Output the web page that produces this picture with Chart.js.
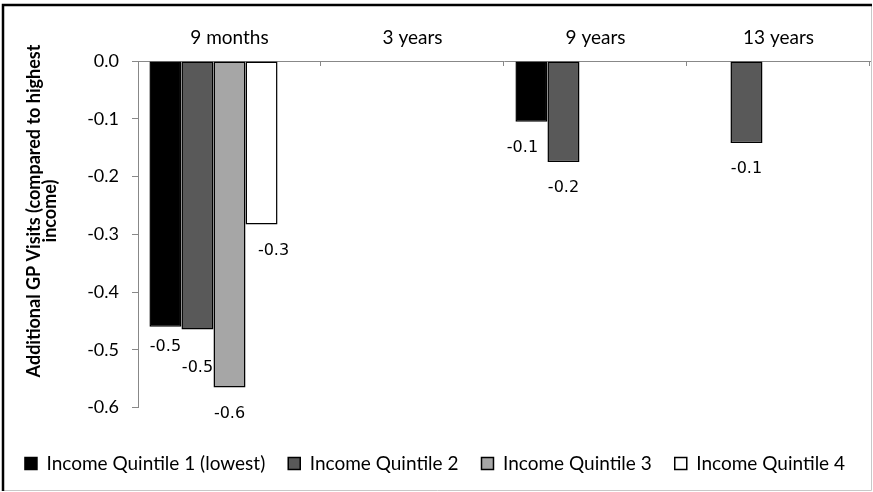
<!DOCTYPE html>
<html>
<head>
<meta charset="utf-8">
<script src="https://cdn.jsdelivr.net/npm/chart.js@4"></script>
<style>
  html, body { margin: 0; padding: 0; background: #fff; }
  #wrap { width: 873px; height: 492px; position: relative; }
</style>
</head>
<body>
<div id="wrap"><canvas id="gpChart"></canvas></div>
<script>
  /* Data */
  var categories = ['9 months', '3 years', '9 years', '13 years'];
  var quintile1 = [-0.46, null, -0.105, null];
  var quintile2 = [-0.465, null, -0.175, -0.142];
  var quintile3 = [-0.565, null, null, null];
  var quintile4 = [-0.283, null, null, null];
  var quintile5 = [null, null, null, null]; // reference group, not shown
  var yTicks = [0, -0.1, -0.2, -0.3, -0.4, -0.5, -0.6];

  var tickFont = 'Lato, "Open Sans", sans-serif';

  /* small nudges for labels that Excel moved apart */
  var labelShift = { '0-0': [0, -6], '1-0': [0, 12], '3-0': [12, 0], '0-2': [-9, 0] };

  function ds(label, data, color) {
    return {
      label: label,
      data: data,
      backgroundColor: color,
      borderColor: '#000',
      borderWidth: 1.5,
      borderSkipped: false,
      categoryPercentage: 0.875,
      barPercentage: 1
    };
  }

  var framePlugin = {
    id: 'frame',
    beforeDraw: function(chart) {
      var ctx = chart.ctx;
      ctx.save();
      ctx.fillStyle = '#fff';
      ctx.fillRect(0, 0, chart.width, chart.height);
      ctx.strokeStyle = '#c8c8c8';
      ctx.lineWidth = 1;
      ctx.beginPath();
      ctx.moveTo(871.5, 5); ctx.lineTo(871.5, 490.5); ctx.lineTo(3, 490.5);
      ctx.stroke();
      ctx.strokeStyle = '#000';
      ctx.lineWidth = 2.5;
      ctx.beginPath();
      ctx.moveTo(3, 491); ctx.lineTo(3, 5); ctx.lineTo(872, 5);
      ctx.stroke();
      ctx.restore();
    }
  };

  var extrasPlugin = {
    id: 'extras',
    afterDatasetsDraw: function(chart) {
      var ctx = chart.ctx;
      ctx.save();
      ctx.fillStyle = '#000';
      ctx.font = '16px "DejaVu Sans", sans-serif';
      ctx.textAlign = 'center';
      ctx.textBaseline = 'middle';
      chart.data.datasets.forEach(function(dataset, i) {
        var meta = chart.getDatasetMeta(i);
        meta.data.forEach(function(bar, j) {
          var v = dataset.data[j];
          if (v === null || v === undefined) return;
          var s = labelShift[i + '-' + j] || [0, 0];
          ctx.fillText(v.toFixed(1), bar.x + s[0], bar.y + 26 + s[1]);
        });
      });
      ctx.restore();
    },
    afterDraw: function(chart) {
      var ctx = chart.ctx;
      var area = chart.chartArea;
      var n = categories.length;
      var w = (area.right - area.left) / n;
      ctx.save();
      ctx.strokeStyle = '#888';
      ctx.lineWidth = 1;
      ctx.beginPath();
      for (var i = 1; i <= n; i++) {
        var x = Math.round(area.left + i * w) - 0.5;
        ctx.moveTo(x, area.top);
        ctx.lineTo(x, area.top + 5);
      }
      ctx.stroke();

      // y axis title
      ctx.fillStyle = '#000';
      ctx.font = 'bold 18px ' + tickFont;
      ctx.textAlign = 'center';
      ctx.textBaseline = 'middle';
      ctx.translate(42, 211);
      ctx.rotate(-Math.PI / 2);
      ctx.fillText('Additional GP Visits (compared to highest', 0, -8);
      ctx.fillText('income)', 0, 8);
      ctx.restore();
    }
  };

  window.addEventListener('DOMContentLoaded', function () {
    var ctx = document.getElementById('gpChart').getContext('2d');
    new Chart(ctx, {
      type: 'bar',
      data: {
        labels: categories,
        datasets: [
          ds('Income Quintile 1 (lowest)', quintile1, '#000000'),
          ds('Income Quintile 2', quintile2, '#595959'),
          ds('Income Quintile 3', quintile3, '#a6a6a6'),
          ds('Income Quintile 4', quintile4, '#ffffff'),
          ds('Income Quintile 5 (highest)', quintile5, '#ffffff')
        ]
      },
      options: {
        responsive: true,
        maintainAspectRatio: false,
        animation: false,
        layout: { padding: { left: 0, right: 3, top: 0, bottom: 9 } },
        scales: {
          x: {
            position: 'top',
            grid: { display: true, drawOnChartArea: false, drawTicks: false },
            border: { display: true, color: '#888', width: 1 },
            ticks: { color: '#000', font: { family: tickFont, size: 19 }, padding: 12 },
            afterFit: function(scale) { scale.height = 61; }
          },
          y: {
            min: -0.6,
            max: 0,
            afterBuildTicks: function(scale) {
              scale.ticks = yTicks.map(function(v) { return { value: v }; });
            },
            grid: { display: true, drawOnChartArea: false, color: '#888', tickLength: 6 },
            border: { display: true, color: '#888', width: 1 },
            ticks: {
              color: '#000',
              font: { family: tickFont, size: 18 },
              padding: 13,
              callback: function(v) { return Math.abs(v) < 1e-9 ? '0.0' : v.toFixed(1); }
            },
            afterFit: function(scale) { scale.width = 138; }
          }
        },
        plugins: {
          legend: {
            position: 'bottom',
            title: { display: true, text: ' ', font: { size: 12 }, padding: { top: 9, bottom: 0 } },
            labels: {
              color: '#000',
              font: { family: tickFont, size: 19 },
              boxWidth: 12,
              boxHeight: 12,
              padding: 23,
              filter: function(item) { return item.datasetIndex < 4; }
            }
          },
          tooltip: { enabled: true }
        }
      },
      plugins: [framePlugin, extrasPlugin]
    });
  });
</script>
</body>
</html>
